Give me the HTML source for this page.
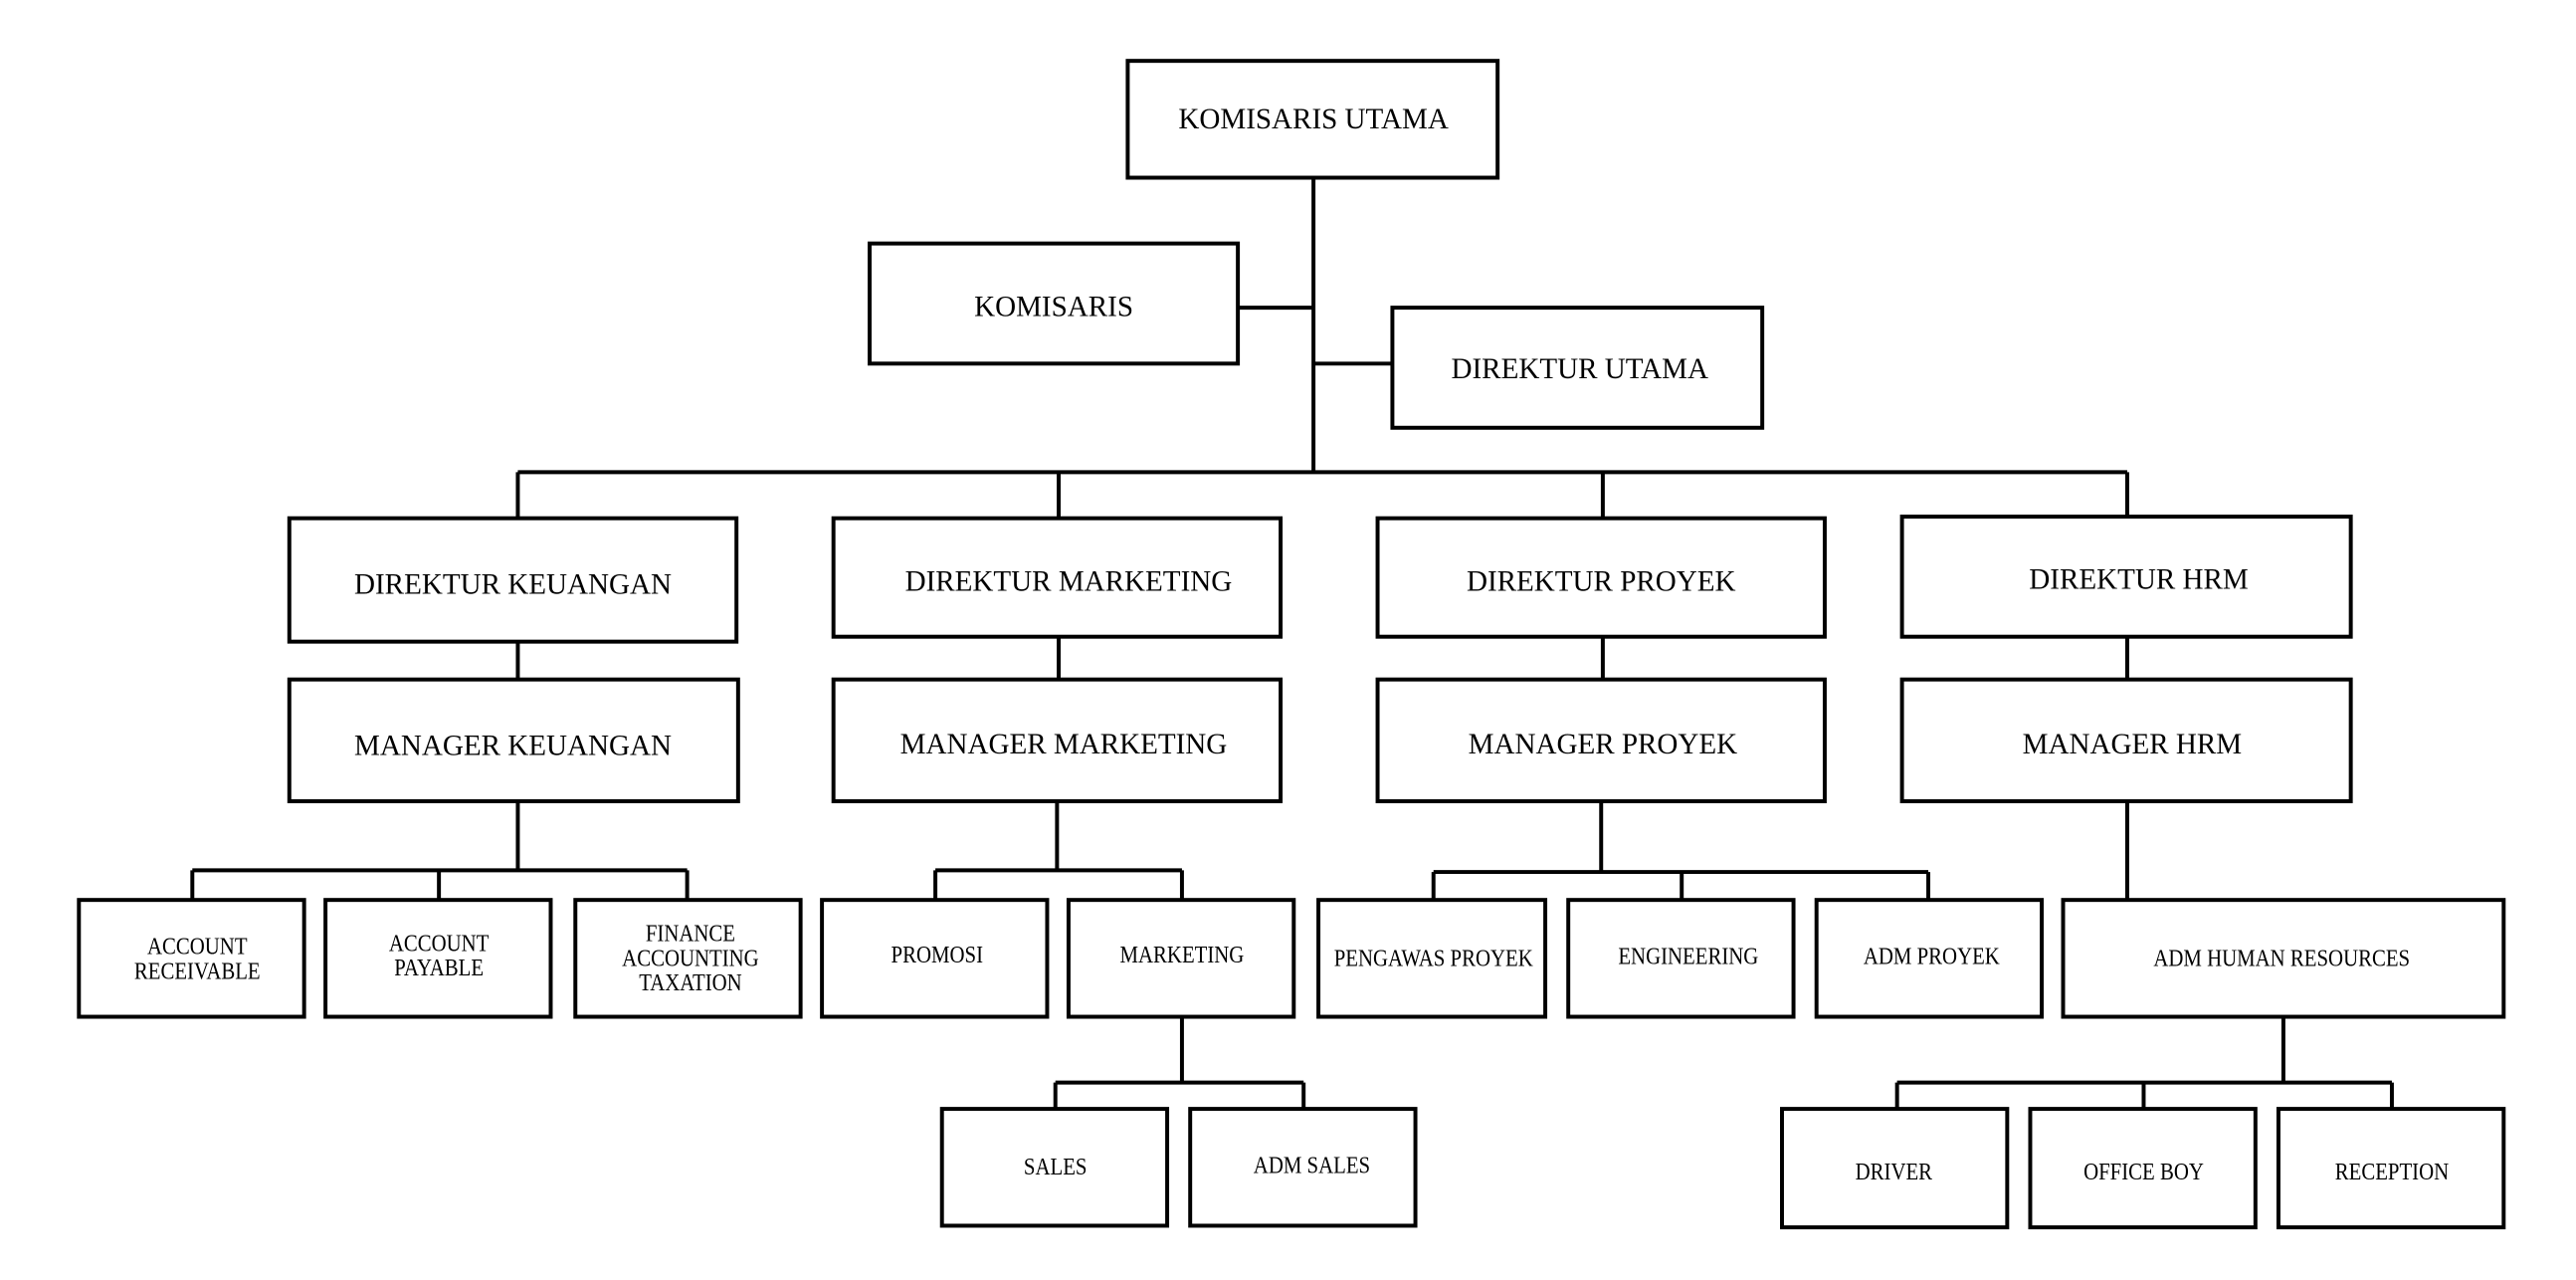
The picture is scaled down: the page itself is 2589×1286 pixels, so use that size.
<!DOCTYPE html>
<html><head><meta charset="utf-8"><style>html,body{margin:0;padding:0;background:#fff}svg{display:block}</style></head>
<body>
<svg width="2589" height="1286" viewBox="0 0 1567 778" preserveAspectRatio="none" xmlns="http://www.w3.org/2000/svg">
<rect width="1600" height="800" fill="#fff"/>
<g fill="none" stroke="#000" stroke-width="2.4">
<rect x="686" y="37" width="225" height="71"/>
<rect x="529" y="148" width="224" height="73"/>
<rect x="847" y="187" width="225" height="73"/>
<rect x="176" y="315" width="272" height="75"/>
<rect x="507" y="315" width="272" height="72"/>
<rect x="838" y="315" width="272" height="72"/>
<rect x="1157" y="314" width="273" height="73"/>
<rect x="176" y="413" width="273" height="74"/>
<rect x="507" y="413" width="272" height="74"/>
<rect x="838" y="413" width="272" height="74"/>
<rect x="1157" y="413" width="273" height="74"/>
<rect x="48" y="547" width="137" height="71"/>
<rect x="198" y="547" width="137" height="71"/>
<rect x="350" y="547" width="137" height="71"/>
<rect x="500" y="547" width="137" height="71"/>
<rect x="650" y="547" width="137" height="71"/>
<rect x="802" y="547" width="138" height="71"/>
<rect x="954" y="547" width="137" height="71"/>
<rect x="1105" y="547" width="137" height="71"/>
<rect x="1255" y="547" width="268" height="71"/>
<rect x="573" y="674" width="137" height="71"/>
<rect x="724" y="674" width="137" height="71"/>
<rect x="1084" y="674" width="137" height="72"/>
<rect x="1235" y="674" width="137" height="72"/>
<rect x="1386" y="674" width="137" height="72"/>
<path d="M799 108V287M753 187H799M799 221H847M315 287H1294M315 287V315M644 287V315M975 287V315M1294 287V314"/>
<path d="M315 390V413M644 387V413M975 387V413M1294 387V413"/>
<path d="M315 487V529M117 529H418M117 529V547M267 529V547M418 529V547"/>
<path d="M643 487V529M569 529H719M569 529V547M719 529V547"/>
<path d="M719 618V658M642 658H793M642 658V674M793 658V674"/>
<path d="M974 487V530M872 530H1173M872 530V547M1023 530V547M1173 530V547"/>
<path d="M1294 487V547"/>
<path d="M1389 618V658M1154 658H1455M1154 658V674M1304 658V674M1455 658V674"/>
</g>
<g font-family="'Liberation Serif',serif" font-size="17.6" text-anchor="middle" fill="#000">
<text x="799" y="78">KOMISARIS UTAMA</text>
<text x="641" y="192">KOMISARIS</text>
<text x="961" y="230">DIREKTUR UTAMA</text>
<text x="312" y="361">DIREKTUR KEUANGAN</text>
<text x="650" y="359">DIREKTUR MARKETING</text>
<text x="974" y="359">DIREKTUR PROYEK</text>
<text x="1301" y="358">DIREKTUR HRM</text>
<text x="312" y="459">MANAGER KEUANGAN</text>
<text x="647" y="458">MANAGER MARKETING</text>
<text x="975" y="458">MANAGER PROYEK</text>
<text x="1297" y="458">MANAGER HRM</text>
</g>
<g font-family="'Liberation Serif',serif" font-size="15" text-anchor="middle" fill="#000">
<g transform="translate(120,580) scale(0.84,1)"><text>ACCOUNT</text></g>
<g transform="translate(120,595) scale(0.84,1)"><text>RECEIVABLE</text></g>
<g transform="translate(267,578) scale(0.84,1)"><text>ACCOUNT</text></g>
<g transform="translate(267,593) scale(0.84,1)"><text>PAYABLE</text></g>
<g transform="translate(420,572) scale(0.84,1)"><text>FINANCE</text></g>
<g transform="translate(420,587) scale(0.84,1)"><text>ACCOUNTING</text></g>
<g transform="translate(420,602) scale(0.84,1)"><text>TAXATION</text></g>
<g transform="translate(570,585) scale(0.84,1)"><text>PROMOSI</text></g>
<g transform="translate(719,585) scale(0.84,1)"><text>MARKETING</text></g>
<g transform="translate(872,587) scale(0.84,1)"><text>PENGAWAS PROYEK</text></g>
<g transform="translate(1027,586) scale(0.84,1)"><text>ENGINEERING</text></g>
<g transform="translate(1175,586) scale(0.84,1)"><text>ADM PROYEK</text></g>
<g transform="translate(1388,587) scale(0.84,1)"><text>ADM HUMAN RESOURCES</text></g>
<g transform="translate(642,714) scale(0.84,1)"><text>SALES</text></g>
<g transform="translate(798,713) scale(0.84,1)"><text>ADM SALES</text></g>
<g transform="translate(1152,717) scale(0.84,1)"><text>DRIVER</text></g>
<g transform="translate(1304,717) scale(0.84,1)"><text>OFFICE BOY</text></g>
<g transform="translate(1455,717) scale(0.84,1)"><text>RECEPTION</text></g>
</g>
</svg>
</body></html>
